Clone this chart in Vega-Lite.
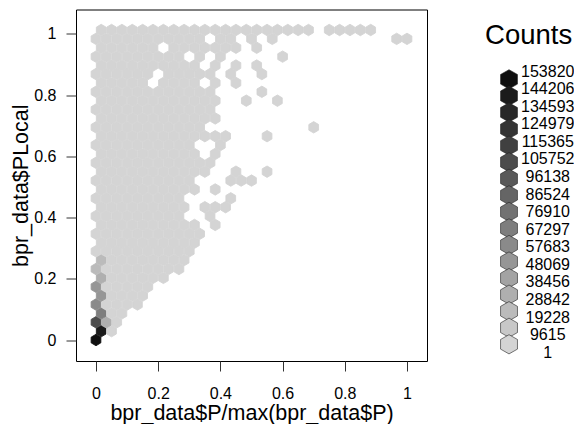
{"$schema":"https://vega.github.io/schema/vega-lite/v6.json","padding":{"left":10,"top":8.5,"right":0,"bottom":0},"background":"white","spacing":53,"config":{"font":"Liberation Sans"},
"datasets":{"hex":[
{"x":0,"y":0,"n":153820},
{"x":0.0167,"y":0.029,"n":144206},{"x":0.05,"y":0.029,"n":100},
{"x":0,"y":0.058,"n":105752},{"x":0.0333,"y":0.058,"n":28842},{"x":0.0667,"y":0.058,"n":100},
{"x":0.0167,"y":0.087,"n":67297},{"x":0.05,"y":0.087,"n":100},{"x":0.0833,"y":0.087,"n":100},
{"x":0,"y":0.116,"n":57683},{"x":0.0333,"y":0.116,"n":100},{"x":0.0667,"y":0.116,"n":100},{"x":0.1,"y":0.116,"n":100},{"x":0.1333,"y":0.116,"n":100},
{"x":0.0167,"y":0.145,"n":48069},{"x":0.05,"y":0.145,"n":100},{"x":0.0833,"y":0.145,"n":100},{"x":0.1167,"y":0.145,"n":100},{"x":0.15,"y":0.145,"n":100},
{"x":0,"y":0.174,"n":48069},{"x":0.0333,"y":0.174,"n":100},{"x":0.0667,"y":0.174,"n":100},{"x":0.1,"y":0.174,"n":100},{"x":0.1333,"y":0.174,"n":100},{"x":0.1667,"y":0.174,"n":100},
{"x":0.0167,"y":0.203,"n":28842},{"x":0.05,"y":0.203,"n":100},{"x":0.0833,"y":0.203,"n":100},{"x":0.1167,"y":0.203,"n":100},{"x":0.15,"y":0.203,"n":100},{"x":0.1833,"y":0.203,"n":100},{"x":0.2167,"y":0.203,"n":100},
{"x":0,"y":0.232,"n":19228},{"x":0.0333,"y":0.232,"n":100},{"x":0.0667,"y":0.232,"n":100},{"x":0.1,"y":0.232,"n":100},{"x":0.1333,"y":0.232,"n":100},{"x":0.1667,"y":0.232,"n":100},{"x":0.2,"y":0.232,"n":100},{"x":0.2333,"y":0.232,"n":100},{"x":0.2667,"y":0.232,"n":100},
{"x":0.0167,"y":0.261,"n":19228},{"x":0.05,"y":0.261,"n":100},{"x":0.0833,"y":0.261,"n":100},{"x":0.1167,"y":0.261,"n":100},{"x":0.15,"y":0.261,"n":100},{"x":0.1833,"y":0.261,"n":100},{"x":0.2167,"y":0.261,"n":100},{"x":0.25,"y":0.261,"n":100},{"x":0.2833,"y":0.261,"n":100},
{"x":0,"y":0.29,"n":100},{"x":0.0333,"y":0.29,"n":100},{"x":0.0667,"y":0.29,"n":100},{"x":0.1,"y":0.29,"n":100},{"x":0.1333,"y":0.29,"n":100},{"x":0.1667,"y":0.29,"n":100},{"x":0.2,"y":0.29,"n":100},{"x":0.2333,"y":0.29,"n":100},{"x":0.2667,"y":0.29,"n":100},{"x":0.3,"y":0.29,"n":100},
{"x":0.0167,"y":0.318,"n":100},{"x":0.05,"y":0.318,"n":100},{"x":0.0833,"y":0.318,"n":100},{"x":0.1167,"y":0.318,"n":100},{"x":0.15,"y":0.318,"n":100},{"x":0.1833,"y":0.318,"n":100},{"x":0.2167,"y":0.318,"n":100},{"x":0.25,"y":0.318,"n":100},{"x":0.2833,"y":0.318,"n":100},{"x":0.3167,"y":0.318,"n":100},
{"x":0,"y":0.347,"n":100},{"x":0.0333,"y":0.347,"n":100},{"x":0.0667,"y":0.347,"n":100},{"x":0.1,"y":0.347,"n":100},{"x":0.1333,"y":0.347,"n":100},{"x":0.1667,"y":0.347,"n":100},{"x":0.2,"y":0.347,"n":100},{"x":0.2333,"y":0.347,"n":100},{"x":0.2667,"y":0.347,"n":100},{"x":0.3,"y":0.347,"n":100},{"x":0.3333,"y":0.347,"n":100},
{"x":0.0167,"y":0.376,"n":100},{"x":0.05,"y":0.376,"n":100},{"x":0.0833,"y":0.376,"n":100},{"x":0.1167,"y":0.376,"n":100},{"x":0.15,"y":0.376,"n":100},{"x":0.1833,"y":0.376,"n":100},{"x":0.2167,"y":0.376,"n":100},{"x":0.25,"y":0.376,"n":100},{"x":0.2833,"y":0.376,"n":100},{"x":0.3167,"y":0.376,"n":100},{"x":0.3833,"y":0.376,"n":100},
{"x":0,"y":0.405,"n":100},{"x":0.0333,"y":0.405,"n":100},{"x":0.0667,"y":0.405,"n":100},{"x":0.1,"y":0.405,"n":100},{"x":0.1333,"y":0.405,"n":100},{"x":0.1667,"y":0.405,"n":100},{"x":0.2,"y":0.405,"n":100},{"x":0.2333,"y":0.405,"n":100},{"x":0.2667,"y":0.405,"n":100},{"x":0.3667,"y":0.405,"n":100},
{"x":0.0167,"y":0.434,"n":100},{"x":0.05,"y":0.434,"n":100},{"x":0.0833,"y":0.434,"n":100},{"x":0.1167,"y":0.434,"n":100},{"x":0.15,"y":0.434,"n":100},{"x":0.1833,"y":0.434,"n":100},{"x":0.2167,"y":0.434,"n":100},{"x":0.25,"y":0.434,"n":100},{"x":0.2833,"y":0.434,"n":100},{"x":0.35,"y":0.434,"n":100},{"x":0.3833,"y":0.434,"n":100},{"x":0.4167,"y":0.434,"n":100},
{"x":0,"y":0.463,"n":100},{"x":0.0333,"y":0.463,"n":100},{"x":0.0667,"y":0.463,"n":100},{"x":0.1,"y":0.463,"n":100},{"x":0.1333,"y":0.463,"n":100},{"x":0.1667,"y":0.463,"n":100},{"x":0.2,"y":0.463,"n":100},{"x":0.2333,"y":0.463,"n":100},{"x":0.2667,"y":0.463,"n":100},{"x":0.4333,"y":0.463,"n":100},
{"x":0.0167,"y":0.492,"n":100},{"x":0.05,"y":0.492,"n":100},{"x":0.0833,"y":0.492,"n":100},{"x":0.1167,"y":0.492,"n":100},{"x":0.15,"y":0.492,"n":100},{"x":0.1833,"y":0.492,"n":100},{"x":0.2167,"y":0.492,"n":100},{"x":0.25,"y":0.492,"n":100},{"x":0.2833,"y":0.492,"n":100},{"x":0.3167,"y":0.492,"n":100},{"x":0.3833,"y":0.492,"n":100},
{"x":0,"y":0.521,"n":100},{"x":0.0333,"y":0.521,"n":100},{"x":0.0667,"y":0.521,"n":100},{"x":0.1,"y":0.521,"n":100},{"x":0.1333,"y":0.521,"n":100},{"x":0.1667,"y":0.521,"n":100},{"x":0.2,"y":0.521,"n":100},{"x":0.2333,"y":0.521,"n":100},{"x":0.2667,"y":0.521,"n":100},{"x":0.3,"y":0.521,"n":100},{"x":0.4333,"y":0.521,"n":100},{"x":0.4667,"y":0.521,"n":100},{"x":0.5,"y":0.521,"n":100},
{"x":0.0167,"y":0.55,"n":100},{"x":0.05,"y":0.55,"n":100},{"x":0.0833,"y":0.55,"n":100},{"x":0.1167,"y":0.55,"n":100},{"x":0.15,"y":0.55,"n":100},{"x":0.1833,"y":0.55,"n":100},{"x":0.2167,"y":0.55,"n":100},{"x":0.25,"y":0.55,"n":100},{"x":0.2833,"y":0.55,"n":100},{"x":0.3167,"y":0.55,"n":100},{"x":0.35,"y":0.55,"n":100},{"x":0.45,"y":0.55,"n":100},{"x":0.55,"y":0.55,"n":100},
{"x":0,"y":0.579,"n":100},{"x":0.0333,"y":0.579,"n":100},{"x":0.0667,"y":0.579,"n":100},{"x":0.1,"y":0.579,"n":100},{"x":0.1333,"y":0.579,"n":100},{"x":0.1667,"y":0.579,"n":100},{"x":0.2,"y":0.579,"n":100},{"x":0.2333,"y":0.579,"n":100},{"x":0.2667,"y":0.579,"n":100},{"x":0.3,"y":0.579,"n":100},{"x":0.3333,"y":0.579,"n":100},{"x":0.3667,"y":0.579,"n":100},
{"x":0.0167,"y":0.608,"n":100},{"x":0.05,"y":0.608,"n":100},{"x":0.0833,"y":0.608,"n":100},{"x":0.1167,"y":0.608,"n":100},{"x":0.15,"y":0.608,"n":100},{"x":0.1833,"y":0.608,"n":100},{"x":0.2167,"y":0.608,"n":100},{"x":0.25,"y":0.608,"n":100},{"x":0.2833,"y":0.608,"n":100},{"x":0.3167,"y":0.608,"n":100},{"x":0.3833,"y":0.608,"n":100},
{"x":0,"y":0.637,"n":100},{"x":0.0333,"y":0.637,"n":100},{"x":0.0667,"y":0.637,"n":100},{"x":0.1,"y":0.637,"n":100},{"x":0.1333,"y":0.637,"n":100},{"x":0.1667,"y":0.637,"n":100},{"x":0.2,"y":0.637,"n":100},{"x":0.2333,"y":0.637,"n":100},{"x":0.2667,"y":0.637,"n":100},{"x":0.3,"y":0.637,"n":100},{"x":0.4,"y":0.637,"n":100},
{"x":0.0167,"y":0.666,"n":100},{"x":0.05,"y":0.666,"n":100},{"x":0.0833,"y":0.666,"n":100},{"x":0.1167,"y":0.666,"n":100},{"x":0.15,"y":0.666,"n":100},{"x":0.1833,"y":0.666,"n":100},{"x":0.2167,"y":0.666,"n":100},{"x":0.25,"y":0.666,"n":100},{"x":0.2833,"y":0.666,"n":100},{"x":0.3167,"y":0.666,"n":100},{"x":0.35,"y":0.666,"n":100},{"x":0.3833,"y":0.666,"n":100},{"x":0.4167,"y":0.666,"n":100},{"x":0.55,"y":0.666,"n":100},
{"x":0,"y":0.695,"n":100},{"x":0.0333,"y":0.695,"n":100},{"x":0.0667,"y":0.695,"n":100},{"x":0.1,"y":0.695,"n":100},{"x":0.1333,"y":0.695,"n":100},{"x":0.1667,"y":0.695,"n":100},{"x":0.2,"y":0.695,"n":100},{"x":0.2333,"y":0.695,"n":100},{"x":0.2667,"y":0.695,"n":100},{"x":0.3,"y":0.695,"n":100},{"x":0.3333,"y":0.695,"n":100},{"x":0.7,"y":0.695,"n":100},
{"x":0.0167,"y":0.724,"n":100},{"x":0.05,"y":0.724,"n":100},{"x":0.0833,"y":0.724,"n":100},{"x":0.1167,"y":0.724,"n":100},{"x":0.15,"y":0.724,"n":100},{"x":0.1833,"y":0.724,"n":100},{"x":0.2167,"y":0.724,"n":100},{"x":0.25,"y":0.724,"n":100},{"x":0.2833,"y":0.724,"n":100},{"x":0.3167,"y":0.724,"n":100},{"x":0.35,"y":0.724,"n":100},{"x":0.3833,"y":0.724,"n":100},
{"x":0,"y":0.753,"n":100},{"x":0.0333,"y":0.753,"n":100},{"x":0.0667,"y":0.753,"n":100},{"x":0.1,"y":0.753,"n":100},{"x":0.1333,"y":0.753,"n":100},{"x":0.1667,"y":0.753,"n":100},{"x":0.2,"y":0.753,"n":100},{"x":0.2333,"y":0.753,"n":100},{"x":0.2667,"y":0.753,"n":100},{"x":0.3,"y":0.753,"n":100},{"x":0.3333,"y":0.753,"n":100},{"x":0.3667,"y":0.753,"n":100},
{"x":0.0167,"y":0.782,"n":100},{"x":0.05,"y":0.782,"n":100},{"x":0.0833,"y":0.782,"n":100},{"x":0.1167,"y":0.782,"n":100},{"x":0.15,"y":0.782,"n":100},{"x":0.1833,"y":0.782,"n":100},{"x":0.2167,"y":0.782,"n":100},{"x":0.25,"y":0.782,"n":100},{"x":0.2833,"y":0.782,"n":100},{"x":0.3167,"y":0.782,"n":100},{"x":0.35,"y":0.782,"n":100},{"x":0.3833,"y":0.782,"n":100},{"x":0.4833,"y":0.782,"n":100},{"x":0.5833,"y":0.782,"n":100},
{"x":0,"y":0.811,"n":100},{"x":0.0333,"y":0.811,"n":100},{"x":0.0667,"y":0.811,"n":100},{"x":0.1,"y":0.811,"n":100},{"x":0.1333,"y":0.811,"n":100},{"x":0.1667,"y":0.811,"n":100},{"x":0.2,"y":0.811,"n":100},{"x":0.2333,"y":0.811,"n":100},{"x":0.2667,"y":0.811,"n":100},{"x":0.3,"y":0.811,"n":100},{"x":0.3333,"y":0.811,"n":100},{"x":0.3667,"y":0.811,"n":100},{"x":0.5333,"y":0.811,"n":100},
{"x":0.0167,"y":0.84,"n":100},{"x":0.05,"y":0.84,"n":100},{"x":0.0833,"y":0.84,"n":100},{"x":0.1167,"y":0.84,"n":100},{"x":0.15,"y":0.84,"n":100},{"x":0.2167,"y":0.84,"n":100},{"x":0.25,"y":0.84,"n":100},{"x":0.2833,"y":0.84,"n":100},{"x":0.3167,"y":0.84,"n":100},{"x":0.3833,"y":0.84,"n":100},{"x":0.45,"y":0.84,"n":100},
{"x":0,"y":0.869,"n":100},{"x":0.0333,"y":0.869,"n":100},{"x":0.0667,"y":0.869,"n":100},{"x":0.1,"y":0.869,"n":100},{"x":0.1333,"y":0.869,"n":100},{"x":0.1667,"y":0.869,"n":100},{"x":0.2333,"y":0.869,"n":100},{"x":0.2667,"y":0.869,"n":100},{"x":0.3,"y":0.869,"n":100},{"x":0.3333,"y":0.869,"n":100},{"x":0.3667,"y":0.869,"n":100},{"x":0.4333,"y":0.869,"n":100},{"x":0.5333,"y":0.869,"n":100},
{"x":0.0167,"y":0.897,"n":100},{"x":0.05,"y":0.897,"n":100},{"x":0.0833,"y":0.897,"n":100},{"x":0.1167,"y":0.897,"n":100},{"x":0.15,"y":0.897,"n":100},{"x":0.1833,"y":0.897,"n":100},{"x":0.2167,"y":0.897,"n":100},{"x":0.25,"y":0.897,"n":100},{"x":0.2833,"y":0.897,"n":100},{"x":0.3167,"y":0.897,"n":100},{"x":0.3833,"y":0.897,"n":100},{"x":0.45,"y":0.897,"n":100},{"x":0.5167,"y":0.897,"n":100},
{"x":0,"y":0.926,"n":100},{"x":0.0333,"y":0.926,"n":100},{"x":0.0667,"y":0.926,"n":100},{"x":0.1,"y":0.926,"n":100},{"x":0.1333,"y":0.926,"n":100},{"x":0.1667,"y":0.926,"n":100},{"x":0.2,"y":0.926,"n":100},{"x":0.2333,"y":0.926,"n":100},{"x":0.2667,"y":0.926,"n":100},{"x":0.3333,"y":0.926,"n":100},{"x":0.4,"y":0.926,"n":100},{"x":0.6,"y":0.926,"n":100},
{"x":0.0167,"y":0.955,"n":100},{"x":0.05,"y":0.955,"n":100},{"x":0.0833,"y":0.955,"n":100},{"x":0.1167,"y":0.955,"n":100},{"x":0.15,"y":0.955,"n":100},{"x":0.1833,"y":0.955,"n":100},{"x":0.25,"y":0.955,"n":100},{"x":0.2833,"y":0.955,"n":100},{"x":0.3167,"y":0.955,"n":100},{"x":0.35,"y":0.955,"n":100},{"x":0.3833,"y":0.955,"n":100},{"x":0.4167,"y":0.955,"n":100},{"x":0.45,"y":0.955,"n":100},{"x":0.5167,"y":0.955,"n":100},
{"x":0,"y":0.984,"n":100},{"x":0.0333,"y":0.984,"n":100},{"x":0.0667,"y":0.984,"n":100},{"x":0.1,"y":0.984,"n":100},{"x":0.1333,"y":0.984,"n":100},{"x":0.1667,"y":0.984,"n":100},{"x":0.2,"y":0.984,"n":100},{"x":0.2333,"y":0.984,"n":100},{"x":0.2667,"y":0.984,"n":100},{"x":0.3,"y":0.984,"n":100},{"x":0.3333,"y":0.984,"n":100},{"x":0.4,"y":0.984,"n":100},{"x":0.4333,"y":0.984,"n":100},{"x":0.5,"y":0.984,"n":100},{"x":0.5667,"y":0.984,"n":100},{"x":0.9667,"y":0.984,"n":100},{"x":1,"y":0.984,"n":100},
{"x":0.0167,"y":1.013,"n":100},{"x":0.05,"y":1.013,"n":100},{"x":0.0833,"y":1.013,"n":100},{"x":0.1167,"y":1.013,"n":100},{"x":0.15,"y":1.013,"n":100},{"x":0.1833,"y":1.013,"n":100},{"x":0.2167,"y":1.013,"n":100},{"x":0.25,"y":1.013,"n":100},{"x":0.2833,"y":1.013,"n":100},{"x":0.3167,"y":1.013,"n":100},{"x":0.35,"y":1.013,"n":100},{"x":0.3833,"y":1.013,"n":100},{"x":0.4167,"y":1.013,"n":100},{"x":0.45,"y":1.013,"n":100},{"x":0.4833,"y":1.013,"n":100},{"x":0.5167,"y":1.013,"n":100},{"x":0.55,"y":1.013,"n":100},{"x":0.5833,"y":1.013,"n":100},{"x":0.6167,"y":1.013,"n":100},{"x":0.65,"y":1.013,"n":100},{"x":0.6833,"y":1.013,"n":100},{"x":0.75,"y":1.013,"n":100},{"x":0.7833,"y":1.013,"n":100},{"x":0.8167,"y":1.013,"n":100},{"x":0.85,"y":1.013,"n":100},{"x":0.8833,"y":1.013,"n":100}
]},
"hconcat":[
{"width":351,"height":351.5,"view":{"stroke":"black","strokeWidth":1},
"data":{"name":"hex"},
"mark":{"type":"point","filled":true,"opacity":1,"size":130,"shape":"M0,-1L0.85,-0.5L0.85,0.5L0,1L-0.85,0.5L-0.85,-0.5Z","strokeWidth":0.9},
"encoding":{"x":{"field":"x","type":"quantitative","scale":{"domain":[-0.0643,1.0643],"nice":false,"zero":false},"axis":{"values":[0,0.2,0.4,0.6,0.8,1],"format":"~g","grid":false,"domain":false,"tickColor":"#333333","tickSize":10,"labelFontSize":16,"labelColor":"black","labelPadding":14,"labelFlush":false,"title":"bpr_data$P/max(bpr_data$P)","titleFontSize":21.5,"titleFontWeight":"normal","titleColor":"black","titlePadding":1}},
"y":{"field":"y","type":"quantitative","scale":{"domain":[-0.0686,1.08],"nice":false,"zero":false},"axis":{"values":[0,0.2,0.4,0.6,0.8,1],"format":"~g","grid":false,"domain":false,"tickColor":"#333333","tickSize":10,"labelFontSize":16,"labelColor":"black","labelPadding":10,"labelFlush":false,"title":"bpr_data$PLocal","titleFontSize":21.5,"titleFontWeight":"normal","titleColor":"black","titlePadding":1}},
"fill":{"field":"n","type":"quantitative","legend":null,"scale":{"type":"threshold","domain":[9615,19228,28842,38456,48069,57683,67297,76910,86524,96138,105752,115365,124979,134593,144206,153820],"range":["#d4d4d4","#c8c8c8","#bbbbbb","#afafaf","#a3a3a3","#969696","#8a8a8a","#7e7e7e","#727272","#656565","#595959","#4c4c4c","#404040","#343434","#282828","#1b1b1b","#0f0f0f"]}},
"stroke":{"field":"n","type":"quantitative","legend":null,"scale":{"type":"threshold","domain":[9615,19228,28842,38456,48069,57683,67297,76910,86524,96138,105752,115365,124979,134593,144206,153820],"range":["#d4d4d4","#c8c8c8","#bbbbbb","#afafaf","#a3a3a3","#969696","#8a8a8a","#7e7e7e","#727272","#656565","#595959","#4c4c4c","#404040","#343434","#282828","#1b1b1b","#0f0f0f"]}}}},
{"width":94,"height":351.5,"view":{"stroke":null},"data":{"values":[{"k":"153820","n":153820},{"k":"144206","n":144206},{"k":"134593","n":134593},{"k":"124979","n":124979},{"k":"115365","n":115365},{"k":"105752","n":105752},{"k":"96138","n":96138},{"k":"86524","n":86524},{"k":"76910","n":76910},{"k":"67297","n":67297},{"k":"57683","n":57683},{"k":"48069","n":48069},{"k":"38456","n":38456},{"k":"28842","n":28842},{"k":"19228","n":19228},{"k":"9615","n":9615},{"k":"1","n":1}]},
"resolve":{"scale":{"y":"independent"},"axis":{"y":"independent"}},
"layer":[
{"mark":{"type":"point","filled":true,"opacity":1,"size":370,"shape":"M0,-1L0.88,-0.5L0.88,0.5L0,1L-0.88,0.5L-0.88,-0.5Z","stroke":"#222222","strokeWidth":0.6},
"encoding":{"x":{"datum":0.298,"type":"quantitative","scale":{"domain":[0,1]},"axis":null},"y":{"field":"k","type":"ordinal","sort":null,"axis":null,"scale":{"type":"point","padding":0,"range":[69.8,334.8]}},"fill":{"field":"n","type":"quantitative","legend":null,"scale":{"type":"threshold","domain":[9615,19228,28842,38456,48069,57683,67297,76910,86524,96138,105752,115365,124979,134593,144206,153820],"range":["#d4d4d4","#c8c8c8","#bbbbbb","#afafaf","#a3a3a3","#969696","#8a8a8a","#7e7e7e","#727272","#656565","#595959","#4c4c4c","#404040","#343434","#282828","#1b1b1b","#0f0f0f"]}}}},
{"mark":{"type":"text","fontSize":16,"color":"black","align":"center","baseline":"middle"},
"encoding":{"x":{"datum":0.71,"type":"quantitative","scale":{"domain":[0,1]},"axis":null},"y":{"field":"k","type":"ordinal","sort":null,"axis":null,"scale":{"type":"point","padding":0,"range":[62,343.2]}},"text":{"field":"k"}}},
{"data":{"values":[{"t":"Counts"}]},"mark":{"type":"text","fontSize":27.5,"color":"black","align":"center","baseline":"middle"},
"encoding":{"x":{"datum":0.507,"type":"quantitative","scale":{"domain":[0,1]},"axis":null},"y":{"field":"t","type":"nominal","axis":null,"scale":{"type":"point","range":[26.5,26.5]}},"text":{"field":"t"}}}
]}
]}
